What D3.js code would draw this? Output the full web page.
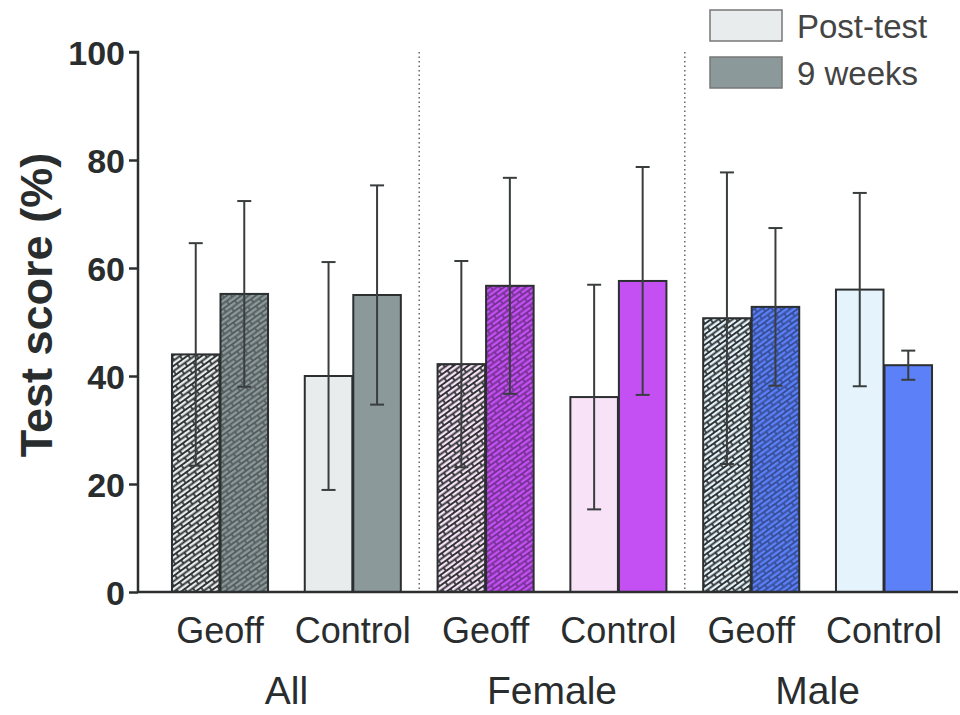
<!DOCTYPE html>
<html>
<head>
<meta charset="utf-8">
<script src="https://cdn.jsdelivr.net/npm/d3@7"></script>
<style>
  body { margin: 0; background: #fff; }
  svg { font-family: Arial, "Liberation Sans", sans-serif; }
</style>
</head>
<body>
<svg id="chart" width="960" height="715"></svg>
<script>
// data
const groups = ["All", "Female", "Male"];
const conditions = ["Geoff", "Control"];
const timepoints = ["Post-test", "9 weeks"];
const meanPost = [44.0, 40.0, 42.2, 36.1, 50.7, 56.0];
const meanWeeks = [55.2, 55.0, 56.7, 57.6, 52.8, 42.0];
const errPost = [20.6, 21.1, 19.1, 20.8, 27.0, 17.9];
const errWeeks = [17.2, 20.3, 20.0, 21.1, 14.6, 2.7];
const colorPost = ["#e9ecec", "#e9ecec", "#f8e2f8", "#f8e2f8", "#e5f4fc", "#e5f4fc"];
const colorWeeks = ["#8c999b", "#8c999b", "#c450f4", "#c450f4", "#5b80f8", "#5b80f8"];
const yTicks = [0, 20, 40, 60, 80, 100];

const svg = d3.select("#chart");
const margin = {top: 52, left: 138, bottom: 123};
const height = 715 - margin.top - margin.bottom;

const keys = [];
groups.forEach(g => conditions.forEach(c => keys.push(g + "|" + c)));
const rows = keys.map((k, i) => ({
    key: k, group: k.split("|")[0], cond: k.split("|")[1],
    vals: [
        {t: timepoints[0], v: meanPost[i], e: errPost[i], c: colorPost[i]},
        {t: timepoints[1], v: meanWeeks[i], e: errWeeks[i], c: colorWeeks[i]}
    ]
}));

const x = d3.scaleBand().domain(keys).range([153.6, 950.4])
    .paddingInner(0.262).paddingOuter(0.131);
const xInner = d3.scaleBand().domain(timepoints).range([0, x.bandwidth()]).padding(0.02);
const y = d3.scaleLinear().domain([0, 100]).range([margin.top + height, margin.top]);

// brick-like hatch patterns for the Geoff bars
const defs = svg.append("defs");
rows.forEach((r, i) => {
    if (r.cond !== "Geoff") return;
    r.vals.forEach((d, j) => {
        const id = `hatch-${i}-${j}`;
        d.fill = `url(#${id})`;
        const lineCol = j === 0 ? "#2f3233" : d3.color(d.c).darker(1.4).formatHex();
        const p = defs.append("pattern")
            .attr("id", id)
            .attr("patternUnits", "userSpaceOnUse")
            .attr("width", 14).attr("height", 8.5)
            .attr("patternTransform", "rotate(-36)");
        p.append("rect").attr("width", 14).attr("height", 8.5).attr("fill", d.c);
        p.append("path")
            .attr("d", "M0,0H14M0,4.25H14M0,8.5H14M1,0V4.25M8,4.25V8.5")
            .attr("stroke", lineCol).attr("stroke-width", 1.7).attr("fill", "none");
    });
});

// dotted separators
const seps = [keys[1], keys[3]].map(k => x(k) + x.step() - (x.step() - x.bandwidth()) / 2);
svg.selectAll(".sep").data(seps).join("line")
    .attr("x1", d => d).attr("x2", d => d)
    .attr("y1", y(100)).attr("y2", y(0))
    .attr("stroke", "#666").attr("stroke-width", 1.5)
    .attr("stroke-dasharray", "1.5,3");

const bars = svg.selectAll(".grp").data(rows).join("g")
    .attr("transform", d => `translate(${x(d.key)},0)`);

bars.selectAll("rect").data(d => d.vals).join("rect")
    .attr("x", d => xInner(d.t))
    .attr("width", xInner.bandwidth())
    .attr("y", d => y(d.v))
    .attr("height", d => y(0) - y(d.v))
    .attr("fill", d => d.fill || d.c)
    .attr("stroke", "#2c2f30").attr("stroke-width", 2);

const err = bars.selectAll(".err").data(d => d.vals).join("g")
    .attr("transform", d => `translate(${xInner(d.t) + xInner.bandwidth() / 2},0)`)
    .attr("stroke", "#3a3d3e").attr("stroke-width", 2);
err.append("line").attr("y1", d => y(d.v + d.e)).attr("y2", d => y(d.v - d.e));
err.append("line").attr("x1", -7).attr("x2", 7).attr("y1", d => y(d.v + d.e)).attr("y2", d => y(d.v + d.e));
err.append("line").attr("x1", -7).attr("x2", 7).attr("y1", d => y(d.v - d.e)).attr("y2", d => y(d.v - d.e));

// axes
const yAxis = svg.append("g")
    .attr("transform", `translate(${margin.left},0)`)
    .call(d3.axisLeft(y).tickValues(yTicks).tickSize(9).tickPadding(4));
yAxis.select(".domain").attr("stroke", "#2c2f30").attr("stroke-width", 2.5).attr("d", `M-9,${y(100)}H0V${y(0)}`);
yAxis.selectAll(".tick line").attr("stroke", "#2c2f30").attr("stroke-width", 2.5);
yAxis.selectAll(".tick text")
    .attr("font-size", 34).attr("font-weight", "bold").attr("fill", "#2a2d2e")
    .attr("font-family", "Arial, Liberation Sans, sans-serif")
    .attr("dy", "0.36em");

svg.append("line")
    .attr("x1", margin.left - 1).attr("x2", 958)
    .attr("y1", y(0)).attr("y2", y(0))
    .attr("stroke", "#2c2f30").attr("stroke-width", 2.5);

svg.append("text")
    .attr("transform", `translate(52,305) rotate(-90)`)
    .attr("text-anchor", "middle")
    .attr("font-size", 45).attr("font-weight", "bold").attr("fill", "#2a2d2e")
    .text("Test score (%)");

svg.selectAll(".cond").data(rows).join("text")
    .attr("x", d => x(d.key) + x.bandwidth() / 2)
    .attr("y", 643)
    .attr("text-anchor", "middle")
    .attr("font-size", 36).attr("fill", "#2a2d2e")
    .text(d => d.cond);

svg.selectAll(".grpLabel").data(groups).join("text")
    .attr("x", g => (x(g + "|Geoff") + x(g + "|Control") + x.bandwidth()) / 2)
    .attr("y", 704)
    .attr("text-anchor", "middle")
    .attr("font-size", 39).attr("fill", "#2a2d2e")
    .text(g => g);

// legend
const legend = svg.append("g").attr("transform", "translate(710,10)");
const legItems = legend.selectAll("g").data(timepoints).join("g")
    .attr("transform", (d, i) => `translate(0,${i * 47})`);
legItems.append("rect")
    .attr("width", 72).attr("height", 31)
    .attr("fill", (d, i) => i === 0 ? colorPost[0] : colorWeeks[0])
    .attr("stroke", "#777").attr("stroke-width", 1.5);
legItems.append("text")
    .attr("x", 87).attr("y", 28)
    .attr("font-size", 33).attr("fill", "#444")
    .text(d => d);
</script>
</body>
</html>
